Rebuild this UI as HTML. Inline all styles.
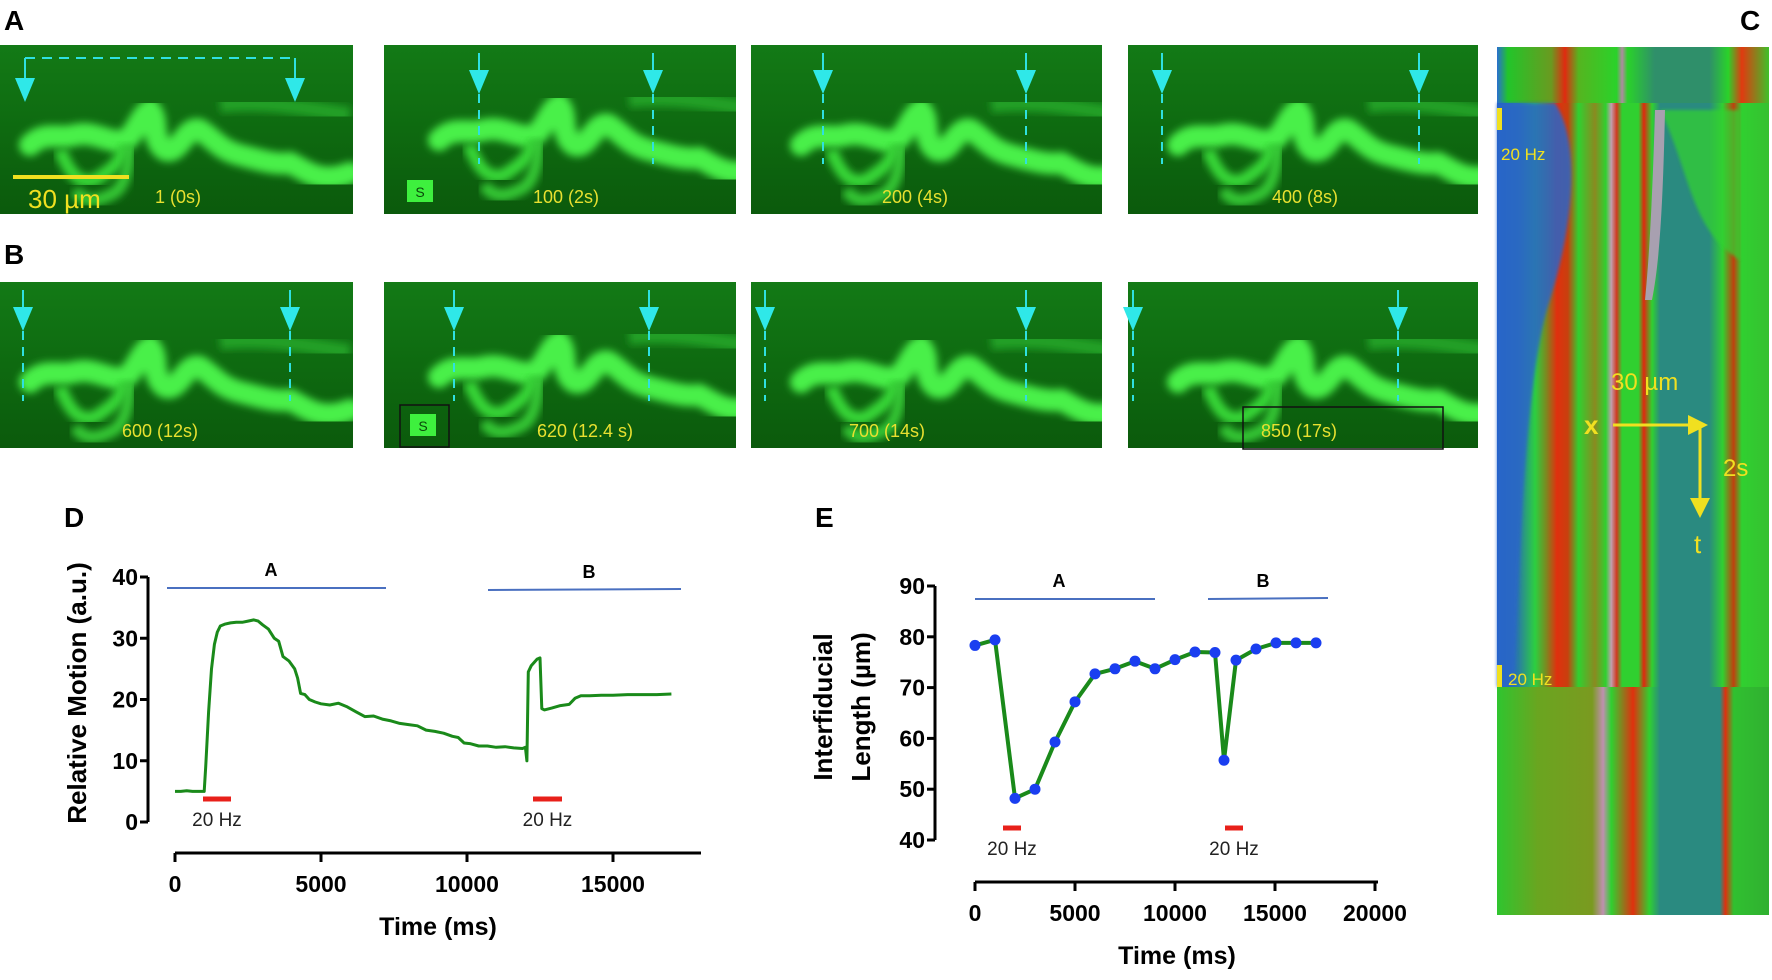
<!DOCTYPE html>
<html><head><meta charset="utf-8">
<style>
html,body{margin:0;padding:0;background:#fff;}
svg{display:block;font-family:"Liberation Sans",sans-serif;}
</style></head>
<body>
<svg id="fig" width="1772" height="980" viewBox="0 0 1772 980" xmlns="http://www.w3.org/2000/svg">
<defs>
  <linearGradient id="bgG" x1="0" y1="0" x2="0" y2="1">
    <stop offset="0" stop-color="#137a16"/><stop offset="0.5" stop-color="#0e6a10"/><stop offset="1" stop-color="#0b5a0c"/>
  </linearGradient>
  <filter id="blur4"><feGaussianBlur stdDeviation="4"/></filter>
  <filter id="blur2"><feGaussianBlur stdDeviation="1.5"/></filter>
  <g id="blob">
    <path d="M30,100 C45,85 60,95 75,90 C95,85 110,100 125,95 C135,90 140,70 150,65 C160,75 150,95 165,105 C180,110 185,80 200,85 C215,95 220,105 240,110 C260,115 275,120 290,118 C305,125 320,140 350,128" fill="none" stroke="#48f048" stroke-width="22" stroke-linecap="round" filter="url(#blur4)"/>
    <path d="M60,105 C70,130 80,140 95,135 C110,125 120,120 125,100" fill="none" stroke="#38d838" stroke-width="13" filter="url(#blur4)"/>
    <path d="M75,145 C85,160 100,155 110,150 C125,145 130,120 128,100" fill="none" stroke="#35c835" stroke-width="12" filter="url(#blur4)"/>
    <path d="M220,60 C260,55 300,62 350,70" fill="none" stroke="#22a025" stroke-width="16" filter="url(#blur4)"/>
  </g>
  <linearGradient id="cTop" x1="0" y1="0" x2="1" y2="0">
    <stop offset="0" stop-color="#2a6fd0"/><stop offset="0.04" stop-color="#22c52a"/><stop offset="0.2" stop-color="#6a9a20"/><stop offset="0.25" stop-color="#e02a10"/><stop offset="0.3" stop-color="#55b520"/><stop offset="0.44" stop-color="#2ad22a"/><stop offset="0.46" stop-color="#b08aa0"/><stop offset="0.48" stop-color="#2ad22a"/><stop offset="0.58" stop-color="#2f8f6a"/><stop offset="0.78" stop-color="#2f8f6a"/><stop offset="0.85" stop-color="#2ad22a"/><stop offset="0.9" stop-color="#e03a10"/><stop offset="1" stop-color="#3ec02a"/>
  </linearGradient>
  <linearGradient id="cMid" x1="0" y1="0" x2="1" y2="0">
    <stop offset="0" stop-color="#1f5fd0"/><stop offset="0.08" stop-color="#2a7fa0"/><stop offset="0.14" stop-color="#2ccf40"/><stop offset="0.18" stop-color="#7a8a20"/><stop offset="0.22" stop-color="#e0300e"/><stop offset="0.26" stop-color="#c8400e"/><stop offset="0.3" stop-color="#30d030"/><stop offset="0.36" stop-color="#8a8a20"/><stop offset="0.4" stop-color="#30d030"/><stop offset="0.42" stop-color="#c0a0b0"/><stop offset="0.44" stop-color="#d03a20"/><stop offset="0.46" stop-color="#30d030"/><stop offset="0.52" stop-color="#30d030"/><stop offset="0.54" stop-color="#e0280e"/><stop offset="0.57" stop-color="#30d030"/><stop offset="0.6" stop-color="#2a8a80"/><stop offset="0.78" stop-color="#2a8a80"/><stop offset="0.83" stop-color="#30d030"/><stop offset="0.87" stop-color="#c0400e"/><stop offset="0.9" stop-color="#30d030"/><stop offset="1" stop-color="#36c030"/>
  </linearGradient>
  <linearGradient id="cBot" x1="0" y1="0" x2="1" y2="0">
    <stop offset="0" stop-color="#2fc52f"/><stop offset="0.15" stop-color="#6aa520"/><stop offset="0.35" stop-color="#7a9a20"/><stop offset="0.39" stop-color="#c090b0"/><stop offset="0.42" stop-color="#30d030"/><stop offset="0.5" stop-color="#e0300e"/><stop offset="0.56" stop-color="#30d030"/><stop offset="0.6" stop-color="#2a8a80"/><stop offset="0.82" stop-color="#2a8a80"/><stop offset="0.84" stop-color="#e0300e"/><stop offset="0.87" stop-color="#30c030"/><stop offset="1" stop-color="#30b030"/>
  </linearGradient>
</defs>

<text x="4" y="30" font-size="28" font-weight="bold">A</text>
<text x="4" y="264" font-size="28" font-weight="bold">B</text>
<text x="1740" y="30" font-size="28" font-weight="bold">C</text>
<text x="64" y="527" font-size="28" font-weight="bold">D</text>
<text x="815" y="527" font-size="28" font-weight="bold">E</text>

<g id="micro"></g>

<g>
  <rect x="1497" y="47" width="272" height="56" fill="url(#cTop)"/>
  <rect x="1497" y="103" width="272" height="584" fill="url(#cMid)"/>
  <path d="M1497,103 L1555,103 C1580,140 1575,220 1550,300 C1530,360 1520,500 1515,687 L1497,687 Z" fill="#2a66c8" opacity="0.85" filter="url(#blur2)"/>
  <path d="M1660,103 L1730,103 C1700,150 1690,220 1690,300 C1690,400 1700,550 1700,687 L1660,687 C1665,550 1670,420 1668,300 C1668,220 1665,150 1660,103 Z" fill="#30c830" opacity="0.0"/>
  <path d="M1660,110 C1690,170 1690,230 1740,260 L1740,110 Z" fill="#30d030" opacity="0.75" filter="url(#blur2)"/>
  <path d="M1655,110 L1665,110 C1663,200 1660,260 1652,300 L1645,300 C1650,250 1653,180 1655,110Z" fill="#a8a0b0"/>
  <rect x="1497" y="687" width="272" height="228" fill="url(#cBot)"/>
  <rect x="1497" y="108" width="5" height="22" fill="#f0e020"/>
  <text x="1501" y="160" font-size="17" fill="#f0e020">20 Hz</text>
  <rect x="1497" y="665" width="5" height="22" fill="#f0e020"/>
  <text x="1508" y="685" font-size="17" fill="#f0e020">20 Hz</text>
  <text x="1611" y="390" font-size="24" fill="#f0e020">30 µm</text>
  <text x="1584" y="434" font-size="26" font-weight="bold" fill="#f0e020">x</text>
  <line x1="1613" y1="425" x2="1690" y2="425" stroke="#f0e020" stroke-width="3"/>
  <polygon points="1688,415 1708,425 1688,435" fill="#f0e020"/>
  <line x1="1700" y1="425" x2="1700" y2="500" stroke="#f0e020" stroke-width="3"/>
  <polygon points="1690,498 1700,518 1710,498" fill="#f0e020"/>
  <text x="1723" y="476" font-size="24" fill="#f0e020">2s</text>
  <text x="1694" y="553" font-size="26" fill="#f0e020">t</text>
</g>

<g id="chartD"></g>
<g id="chartE"></g>
</svg>

<script>
const dTimes = [0,200,400,600,800,1000,1050,1150,1250,1350,1450,1550,1700,1900,2100,2300,2500,2700,2850,3000,3200,3400,3550,3700,3900,4100,4200,4300,4450,4600,4800,5000,5300,5600,5900,6200,6500,6800,7100,7400,7700,8000,8300,8600,8900,9200,9500,9700,9900,10100,10400,10700,11000,11300,11600,11900,12000,12050,12100,12200,12400,12500,12560,12650,12900,13200,13500,13700,13900,14200,14600,15000,15500,16000,16500,17000];
const dValues = [5,5,5.1,5,5,5,9,18,25,29,31,32,32.3,32.5,32.6,32.6,32.8,33,32.8,32.2,31.5,30,29.5,27,26.3,25,23.5,21,20.8,20,19.6,19.3,19.1,19.4,18.8,18,17.2,17.3,16.8,16.5,16.1,15.9,15.7,15,14.8,14.5,14,13.8,12.9,12.8,12.4,12.4,12.2,12.3,12.1,12,12.2,10,24.5,25.5,26.6,26.8,18.5,18.3,18.6,19,19.2,20.2,20.6,20.6,20.7,20.7,20.8,20.8,20.8,20.9];
const dYTicks = [0,10,20,30,40];
const dXTicks = [0,5000,10000,15000];
const eTimes = [0,1000,2000,3000,4000,5000,6000,7000,8000,9000,10000,11000,12000,12450,13050,14050,15050,16050,17050];
const eValues = [78.3,79.4,48.2,50,59.3,67.2,72.7,73.7,75.2,73.7,75.5,77,76.9,55.7,75.4,77.6,78.8,78.8,78.8];
const eYTicks = [40,50,60,70,80,90];
const eXTicks = [0,5000,10000,15000,20000];
const frameLabels = ["1 (0s)","100 (2s)","200 (4s)","400 (8s)","600 (12s)","620 (12.4 s)","700 (14s)","850 (17s)"];

const NS = "http://www.w3.org/2000/svg";
function mk(parent, tag, attrs, text){
  const e = document.createElementNS(NS, tag);
  for (const k in attrs) e.setAttribute(k, attrs[k]);
  if (text !== undefined) e.textContent = text;
  parent.appendChild(e);
  return e;
}

(function(){
  const g = document.getElementById('micro');
  const cols = [[0,353],[384,736],[751,1102],[1128,1478]];
  const rows = [[45,214],[282,448]];
  const arrows = [[25,295],[479,653],[823,1026],[1162,1419],[23,290],[454,649],[765,1026],[1133,1398]];
  const labelX = [178,566,915,1305,160,585,887,1299];
  for (let r=0;r<2;r++) for (let c=0;c<4;c++){
    const i = r*4+c;
    const [x0,x1] = cols[c], [y0,y1] = rows[r];
    const fr = mk(g,'g',{});
    
    
    mk(fr,'rect',{x:x0,y:y0,width:x1-x0,height:y1-y0,fill:'url(#bgG)'});
    const svgIn = mk(fr,'svg',{x:x0,y:y0,width:x1-x0,height:y1-y0,overflow:'hidden'});
    const shift = (c===0)?0:((c===1)?25:20);
    mk(svgIn,'use',{href:'#blob',x:shift,y:(c===1?-5:0)});
    const [ax1,ax2] = arrows[i];
    const top = y0+8, triTop = (i===0)? y0+33 : y0+25, triBot = triTop+24;
    if (i===0){
      mk(fr,'line',{x1:ax1,y1:y0+13,x2:ax2,y2:y0+13,stroke:'#2fe0e0','stroke-width':2,'stroke-dasharray':'10,7'});
    }
    [ax1,ax2].forEach(ax=>{
      mk(fr,'line',{x1:ax,y1:(i===0?y0+13:top),x2:ax,y2:triTop,stroke:'#2fe0e0','stroke-width':2});
      mk(fr,'polygon',{points:`${ax-10},${triTop} ${ax+10},${triTop} ${ax},${triBot}`,fill:'#2fe8e8'});
      if (i!==0) mk(fr,'line',{x1:ax,y1:triBot,x2:ax,y2:triBot+70,stroke:'#2fe0e0','stroke-width':2,'stroke-dasharray':'9,7'});
    });
    const t = mk(fr,'text',{x:labelX[i],y:y1-11,'font-size':18,fill:'#e8e030','text-anchor':'middle'},frameLabels[i]);
    
    
  }
  mk(g,'rect',{x:13,y:175,width:116,height:4,fill:'#f0e020'});
  mk(g,'text',{x:28,y:208,'font-size':26,fill:'#f0e020'},'30 µm');
  mk(g,'rect',{x:407,y:180,width:26,height:22,fill:'#3ef03e'});
  mk(g,'text',{x:420,y:197,'font-size':14,fill:'#0a4a0a','text-anchor':'middle'},'S');
  mk(g,'rect',{x:400,y:405,width:49,height:42,fill:'none',stroke:'#111','stroke-width':1.5});
  mk(g,'rect',{x:410,y:414,width:26,height:22,fill:'#3ef03e'});
  mk(g,'text',{x:423,y:431,'font-size':14,fill:'#0a4a0a','text-anchor':'middle'},'S');
  mk(g,'rect',{x:1243,y:407,width:200,height:42,fill:'none',stroke:'#111','stroke-width':1.5});
})();

function buildChart(gid, cfg){
  const g = document.getElementById(gid);
  const sx = v => cfg.x0 + (v - cfg.xmin)/(cfg.xmax - cfg.xmin)*(cfg.x1 - cfg.x0);
  const sy = v => cfg.yb + (v - cfg.ymin)/(cfg.ymax - cfg.ymin)*(cfg.yt - cfg.yb);
  const ya = mk(g,'line',{x1:cfg.yAxisX,y1:sy(cfg.yTicks[cfg.yTicks.length-1]),x2:cfg.yAxisX,y2:sy(cfg.yTicks[0]),stroke:'#000','stroke-width':3});
   
  cfg.yTicks.forEach(v=>{
    mk(g,'line',{x1:cfg.yAxisX-8,y1:sy(v),x2:cfg.yAxisX,y2:sy(v),stroke:'#000','stroke-width':3});
    const t = mk(g,'text',{x:cfg.yAxisX-10,y:sy(v)+8,'font-size':23,'font-weight':'bold','text-anchor':'end'},String(v));
     
  });
  const xa = mk(g,'line',{x1:sx(cfg.xTicks[0]),y1:cfg.xAxisY,x2:cfg.xAxisEnd,y2:cfg.xAxisY,stroke:'#000','stroke-width':3});
   
  cfg.xTicks.forEach(v=>{
    mk(g,'line',{x1:sx(v),y1:cfg.xAxisY,x2:sx(v),y2:cfg.xAxisY+9,stroke:'#000','stroke-width':3});
    const t = mk(g,'text',{x:sx(v),y:cfg.xAxisY+39,'font-size':23,'font-weight':'bold','text-anchor':'middle'},String(v));
     
  });
  const xt = mk(g,'text',{x:cfg.xTitleX,y:cfg.xAxisY+82,'font-size':25,'font-weight':'bold','text-anchor':'middle'},'Time (ms)');
   
  cfg.yTitle.forEach((line,k)=>{
    const yt = mk(g,'text',{x:0,y:0,'font-size':26,'font-weight':'bold','text-anchor':'middle',transform:`translate(${cfg.yTitleX[k]},${cfg.yTitleY}) rotate(-90)`},line);
     
  });
  cfg.phases.forEach(p=>{
    mk(g,'line',{x1:p.x1,y1:p.y,x2:p.x2,y2:p.y2,stroke:'#4a70c0','stroke-width':2});
    const t = mk(g,'text',{x:p.lx,y:p.y-12,'font-size':18,'font-weight':'bold','text-anchor':'middle'},p.label);
     
  });
  cfg.stims.forEach((s,k)=>{
    const r = mk(g,'line',{x1:s[0],y1:cfg.stimY,x2:s[1],y2:cfg.stimY,stroke:'#e8201a','stroke-width':5});
     
    const t = mk(g,'text',{x:(s[0]+s[1])/2,y:cfg.stimY+27,'font-size':19,fill:'#222','text-anchor':'middle'},'20 Hz');
     
  });
  const pts = cfg.xs.map((v,i)=>sx(v).toFixed(1)+','+sy(cfg.ys[i]).toFixed(1)).join(' ');
  const pl = mk(g,'polyline',{points:pts,fill:'none',stroke:'#1a8a1a','stroke-width':cfg.lw,'stroke-linejoin':'round'});
   
  if (cfg.markers){
    cfg.xs.forEach((v,i)=>{
      const c = mk(g,'circle',{cx:sx(v),cy:sy(cfg.ys[i]),r:5.5,fill:'#1a3ef0'});
       
    });
  }
}

buildChart('chartD',{
  xmin:0,xmax:5000,x0:175,x1:321, ymin:0,ymax:40,yb:822,yt:577,
  yAxisX:148, xAxisY:853, xAxisEnd:701, xTicks:dXTicks, yTicks:dYTicks,
  xTitleX:438, yTitle:['Relative Motion (a.u.)'], yTitleX:[86], yTitleY:693,
  phases:[{x1:167,x2:386,y:588,y2:588,lx:271,label:'A'},{x1:488,x2:681,y:590,y2:589,lx:589,label:'B'}],
  stims:[[203,231],[533,562]], stimY:799,
  xs:dTimes, ys:dValues, lw:3, markers:false
});
buildChart('chartE',{
  xmin:0,xmax:5000,x0:975,x1:1075, ymin:40,ymax:90,yb:840,yt:586,
  yAxisX:935, xAxisY:882, xAxisEnd:1378, xTicks:eXTicks, yTicks:eYTicks,
  xTitleX:1177, yTitle:['Interfiducial','Length (µm)'], yTitleX:[832,870], yTitleY:707,
  phases:[{x1:975,x2:1155,y:599,y2:599,lx:1059,label:'A'},{x1:1208,x2:1328,y:599,y2:598,lx:1263,label:'B'}],
  stims:[[1003,1021],[1225,1243]], stimY:828,
  xs:eTimes, ys:eValues, lw:4, markers:true
});
</script>
</body></html>
